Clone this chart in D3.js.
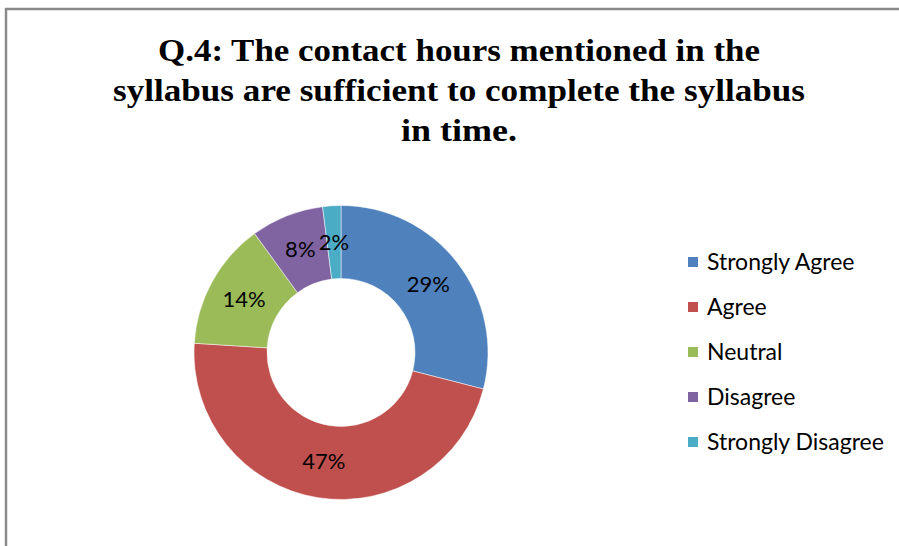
<!DOCTYPE html>
<html>
<head>
<meta charset="utf-8">
<script src="https://cdn.jsdelivr.net/npm/d3@7"></script>
<style>
  html, body { margin: 0; background: #fff; overflow: hidden; }
  svg { display: block; }
</style>
</head>
<body>
<div id="chart"></div>
<script>
// data
var categories = ["Strongly Agree", "Agree", "Neutral", "Disagree", "Strongly Disagree"];
var values = [29, 47, 14, 8, 2];
var colors = ["#4F81BD", "#C0504D", "#9BBB59", "#8064A2", "#4BACC6"];
var titleLines = ["Q.4: The contact hours mentioned in the",
                  "syllabus are sufficient to complete the syllabus",
                  "in time."];
var titleWidths = [602, 692, 116];

var svgWidth = 899;
var svgHeight = 546;

var svg = d3.select("#chart")
    .append("svg")
    .attr("width", svgWidth)
    .attr("height", svgHeight);

// chart frame: only left and top edges are in view
svg.append("path")
    .attr("d", `M6,${svgHeight} V9 H${svgWidth + 10}`)
    .attr("fill", "none")
    .attr("stroke", "#8a8a8a")
    .attr("stroke-width", 2.5);

// title
svg.selectAll(".title")
    .data(titleLines)
    .enter()
    .append("text")
    .attr("class", "title")
    .attr("x", 459)
    .attr("y", function(d, i) { return 61 + i * 40; })
    .attr("text-anchor", "middle")
    .attr("font-family", "'Liberation Serif', 'Times New Roman', serif")
    .attr("font-weight", "bold")
    .attr("font-size", "32px")
    .attr("fill", "#000")
    .attr("textLength", function(d, i) { return titleWidths[i]; })
    .attr("lengthAdjust", "spacingAndGlyphs")
    .text(function(d) { return d; });

// donut
var cx = 341, cy = 352.5;
var outerR = 147, innerR = 74;

var pie = d3.pie().sort(null).value(function(d) { return d; });
var arc = d3.arc().innerRadius(innerR).outerRadius(outerR);
var labelArc = d3.arc().innerRadius((innerR + outerR) / 2).outerRadius((innerR + outerR) / 2);

var donut = svg.append("g")
    .attr("transform", `translate(${cx}, ${cy})`);

var arcs = pie(values);

donut.selectAll("path")
    .data(arcs)
    .enter()
    .append("path")
    .attr("d", arc)
    .attr("fill", function(d, i) { return colors[i]; })
    .attr("stroke", "#fff")
    .attr("stroke-width", 0.5);

donut.selectAll(".lbl")
    .data(arcs)
    .enter()
    .append("text")
    .attr("class", "lbl")
    .attr("transform", function(d) { return `translate(${labelArc.centroid(d)})`; })
    .attr("text-anchor", "middle")
    .attr("dy", "0.35em")
    .attr("font-family", "Lato, 'Open Sans', sans-serif")
    .attr("font-size", "22px")
    .attr("fill", "#000")
    .text(function(d) { return d.data + "%"; });

// legend
var legend = svg.append("g")
    .attr("transform", "translate(688, 262)");

var rows = legend.selectAll("g")
    .data(categories)
    .enter()
    .append("g")
    .attr("transform", function(d, i) { return `translate(0, ${i * 45})`; });

rows.append("rect")
    .attr("x", 0)
    .attr("y", -5)
    .attr("width", 10)
    .attr("height", 10)
    .attr("fill", function(d, i) { return colors[i]; });

rows.append("text")
    .attr("x", 19)
    .attr("dy", "0.35em")
    .attr("font-family", "Lato, 'Open Sans', sans-serif")
    .attr("font-size", "23px")
    .attr("fill", "#000")
    .text(function(d) { return d; });
</script>
</body>
</html>
